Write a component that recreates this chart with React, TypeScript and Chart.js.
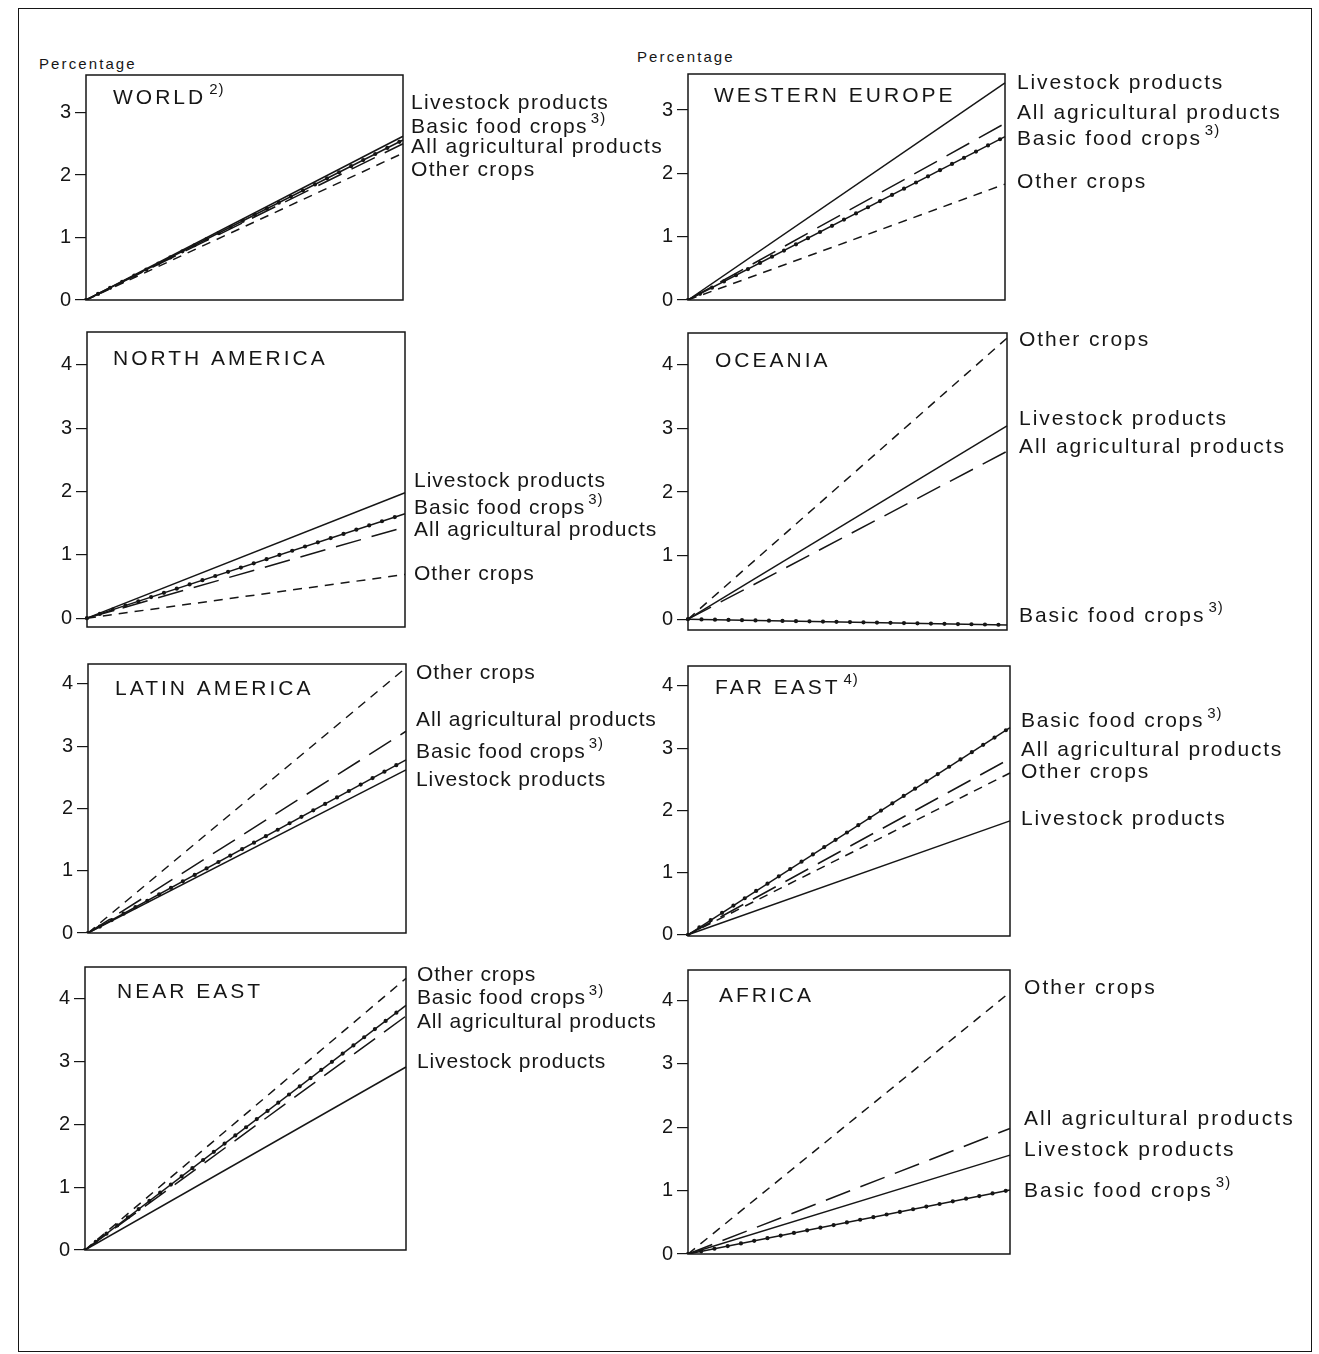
import React, { useEffect, useRef } from 'react';
import { Chart, registerables } from 'chart.js';

Chart.register(...registerables);

// ---------------- data ----------------
const regions = ['WORLD', 'WESTERN EUROPE', 'NORTH AMERICA', 'OCEANIA', 'LATIN AMERICA', 'FAR EAST', 'NEAR EAST', 'AFRICA'];
const regionNotes = ['2)', '', '', '', '', '4)', '', ''];
const seriesNames = ['Livestock products', 'Basic food crops', 'All agricultural products', 'Other crops'];
const seriesNotes = ['', '3)', '', ''];
const periodLabels = ['Base period', 'End of period'];

// annual growth, percentage (value at end of the period, all lines start at 0)
const livestock = [2.62, 3.43, 1.98, 3.04, 2.62, 1.83, 2.91, 1.56];
const basicFood = [2.56, 2.58, 1.65, -0.09, 2.78, 3.33, 3.89, 1.01];
const allAgri = [2.5, 2.79, 1.44, 2.64, 3.24, 2.83, 3.72, 1.98];
const otherCrops = [2.35, 1.83, 0.69, 4.42, 4.26, 2.6, 4.32, 4.13];

const ticksLow = [0, 1, 2, 3];
const ticksHigh = [0, 1, 2, 3, 4];

// ---------------- layout (page pixels) ----------------
type Layout = {
  left: number; top: number; right: number; bottom: number;
  yMin: number; yMax: number; ticks: number[];
  labelY: number[]; labelDx: number; labelSpacing: number;
  titleDx: number; titleDy: number;
};

const layouts: Layout[] = [
  { left: 86, top: 75, right: 403, bottom: 300, yMin: 0, yMax: 3.6, ticks: ticksLow, labelY: [3.15, 2.77, 2.45, 2.08], labelDx: 8, labelSpacing: 1.35, titleDx: 27, titleDy: 23 },
  { left: 688, top: 74, right: 1005, bottom: 300, yMin: 0, yMax: 3.57, ticks: ticksLow, labelY: [3.43, 2.54, 2.95, 1.86], labelDx: 12, labelSpacing: 1.85, titleDx: 26, titleDy: 22 },
  { left: 87, top: 332, right: 405, bottom: 627, yMin: -0.14, yMax: 4.52, ticks: ticksHigh, labelY: [2.16, 1.74, 1.39, 0.69], labelDx: 9, labelSpacing: 1.0, titleDx: 26, titleDy: 27 },
  { left: 688, top: 333, right: 1007, bottom: 630, yMin: -0.17, yMax: 4.5, ticks: ticksHigh, labelY: [3.15, 0.05, 2.71, 4.38], labelDx: 12, labelSpacing: 1.95, titleDx: 27, titleDy: 28 },
  { left: 88, top: 664, right: 406, bottom: 933, yMin: 0, yMax: 4.32, ticks: ticksHigh, labelY: [2.46, 2.91, 3.42, 4.18], labelDx: 10, labelSpacing: 0.9, titleDx: 27, titleDy: 25 },
  { left: 688, top: 666, right: 1010, bottom: 936, yMin: -0.02, yMax: 4.32, ticks: ticksHigh, labelY: [1.86, 3.43, 2.97, 2.62], labelDx: 11, labelSpacing: 1.75, titleDx: 27, titleDy: 22 },
  { left: 85, top: 967, right: 406, bottom: 1250, yMin: 0, yMax: 4.5, ticks: ticksHigh, labelY: [2.98, 4.0, 3.62, 4.37], labelDx: 11, labelSpacing: 0.85, titleDx: 32, titleDy: 25 },
  { left: 688, top: 970, right: 1010, bottom: 1254, yMin: 0, yMax: 4.48, ticks: ticksHigh, labelY: [1.64, 0.99, 2.12, 4.19], labelDx: 14, labelSpacing: 2.1, titleDx: 31, titleDy: 26 },
];

const FONT = '"Liberation Sans", Arial, sans-serif';
const INK = '#161616';
const AXW = 50;
const PADT = 20;
const PADB = 20;
const LABW = 295;

function Panel({ index }: { index: number }) {
  const ref = useRef<HTMLCanvasElement>(null);
  const L = layouts[index];
  const boxW = L.right - L.left;
  const boxH = L.bottom - L.top;
  const cw = AXW + boxW + LABW;
  const ch = PADT + boxH + PADB;

  useEffect(() => {
    const canvas = ref.current;
    if (!canvas) return;
    const values = [livestock[index], basicFood[index], allAgri[index], otherCrops[index]];

    const annotate = {
      id: 'annotate' + index,
      afterDraw(chart: any) {
        const { ctx, chartArea } = chart;
        const yScale = chart.scales.y;
        ctx.save();
        // frame
        ctx.strokeStyle = INK;
        ctx.lineWidth = 1.5;
        ctx.strokeRect(chartArea.left, chartArea.top, chartArea.right - chartArea.left, chartArea.bottom - chartArea.top);
        ctx.fillStyle = INK;
        ctx.textBaseline = 'middle';
        ctx.textAlign = 'left';
        // title
        ctx.font = `21px ${FONT}`;
        (ctx as any).letterSpacing = '3px';
        const tx = chartArea.left + L.titleDx;
        const ty = chartArea.top + L.titleDy;
        ctx.fillText(regions[index], tx, ty);
        if (regionNotes[index]) {
          const w = ctx.measureText(regions[index]).width;
          ctx.font = `15px ${FONT}`;
          (ctx as any).letterSpacing = '1px';
          ctx.fillText(regionNotes[index], tx + w + 3, ty - 8);
        }
        // series labels
        for (let i = 0; i < seriesNames.length; i++) {
          const lx = chartArea.right + L.labelDx;
          const ly = yScale.getPixelForValue(L.labelY[i]);
          ctx.font = `21px ${FONT}`;
          (ctx as any).letterSpacing = L.labelSpacing + 'px';
          ctx.fillText(seriesNames[i], lx, ly);
          if (seriesNotes[i]) {
            const w = ctx.measureText(seriesNames[i]).width;
            ctx.font = `15px ${FONT}`;
            (ctx as any).letterSpacing = '1px';
            ctx.fillText(seriesNotes[i], lx + w + 3, ly - 8);
          }
        }
        ctx.restore();
      },
    };

    const base = { pointRadius: 0, borderColor: INK, borderWidth: 1.5, tension: 0, fill: false };
    const chart = new Chart(canvas, {
      type: 'line',
      data: {
        labels: periodLabels,
        datasets: [
          { ...base, label: seriesNames[0], data: [0, values[0]] },
          { ...base, label: seriesNames[1], data: [0, values[1]] },
          { ...base, label: seriesNames[1] + ' (markers)', data: [0, values[1]], borderDash: [0, 13.5], borderCapStyle: 'round', borderWidth: 4.2 },
          { ...base, label: seriesNames[2], data: [0, values[2]], borderDash: [26, 11] },
          { ...base, label: seriesNames[3], data: [0, values[3]], borderDash: [9, 7] },
        ] as any,
      },
      options: {
        responsive: false,
        animation: false,
        devicePixelRatio: 1,
        layout: { padding: { left: 0, right: LABW, top: PADT, bottom: PADB } },
        plugins: { legend: { display: false }, tooltip: { enabled: false } },
        scales: {
          x: { display: false, offset: false },
          y: {
            min: L.yMin,
            max: L.yMax,
            afterFit: (s: any) => { s.width = AXW; },
            afterBuildTicks: (s: any) => { s.ticks = L.ticks.map((v) => ({ value: v })); },
            grid: { drawOnChartArea: false, drawTicks: true, tickLength: 11, color: INK, lineWidth: 1.2 },
            border: { display: false },
            ticks: { color: INK, font: { size: 20, family: FONT }, padding: 4 },
          },
        },
      } as any,
      plugins: [annotate],
    });
    return () => chart.destroy();
  }, [index]);

  return (
    <canvas
      ref={ref}
      width={cw}
      height={ch}
      style={{ position: 'absolute', left: L.left - AXW, top: L.top - PADT, width: cw, height: ch }}
    />
  );
}

export default function App() {
  const pctStyle: React.CSSProperties = {
    position: 'absolute',
    fontFamily: FONT,
    fontSize: 15,
    letterSpacing: '2.1px',
    color: INK,
    lineHeight: '16px',
    whiteSpace: 'nowrap',
  };
  return (
    <div style={{ position: 'absolute', left: 0, top: 0, width: 1319, height: 1354, background: '#fff', overflow: 'hidden' }}>
      <div style={{ position: 'absolute', left: 18, top: 8, width: 1292, height: 1342, border: `1.5px solid ${INK}` }} />
      <div style={{ ...pctStyle, left: 39, top: 56 }}>Percentage</div>
      <div style={{ ...pctStyle, left: 637, top: 49 }}>Percentage</div>
      {layouts.map((_, i) => (
        <Panel key={i} index={i} />
      ))}
    </div>
  );
}
